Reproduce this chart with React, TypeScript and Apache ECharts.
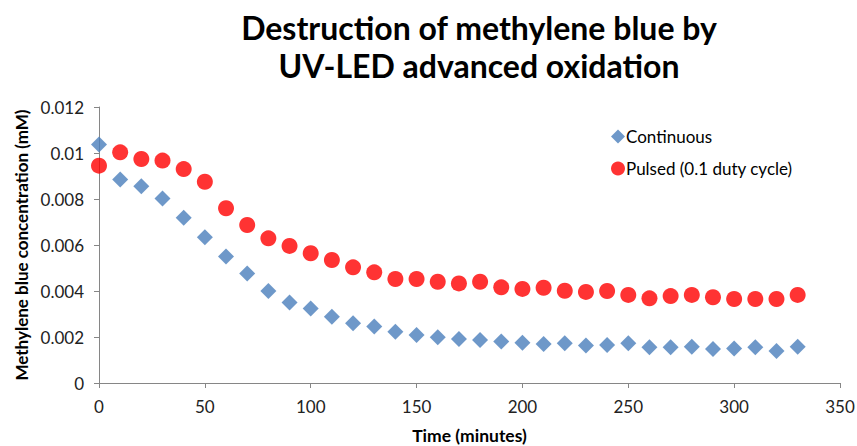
import React, { useEffect, useRef } from "react";
import * as echarts from "echarts";

const times = [0,10,20,30,40,50,60,70,80,90,100,110,120,130,140,150,160,170,180,190,200,210,220,230,240,250,260,270,280,290,300,310,320,330];
const continuous = [0.01037,0.00885,0.00855,0.00802,0.00719,0.00634,0.0055,0.00476,0.004,0.0035,0.00324,0.00288,0.0026,0.00246,0.00223,0.00209,0.00199,0.00191,0.00187,0.0018,0.00175,0.0017,0.00173,0.00163,0.00165,0.00173,0.00155,0.00155,0.00158,0.00148,0.0015,0.00155,0.00139,0.00158];
const pulsed = [0.00945,0.01003,0.00974,0.00967,0.0093,0.00875,0.0076,0.00687,0.00629,0.00596,0.00564,0.00535,0.00503,0.00481,0.00452,0.00452,0.0044,0.00433,0.0044,0.00416,0.00409,0.00414,0.00401,0.00396,0.004,0.00383,0.00368,0.00378,0.00383,0.00373,0.00365,0.00365,0.00365,0.00383];
const yTicks = ["0","0.002","0.004","0.006","0.008","0.01","0.012"];

const FONT = "Lato";

export default function App() {
  const ref = useRef<HTMLDivElement>(null);
  useEffect(() => {
    if (!ref.current) return;
    const chart = echarts.init(ref.current, null, { renderer: "svg" });
    chart.setOption({
      animation: false,
      backgroundColor: "#ffffff",
      title: {
        text: "Destruction of methylene blue by\nUV-LED advanced oxidation",
        left: 474,
        top: 3,
        textAlign: "center",
        textStyle: { fontFamily: FONT, fontSize: 32, fontWeight: "bold", color: "#000", lineHeight: 38 },
      },
      legend: {
        orient: "vertical",
        left: 606,
        top: 123,
        itemGap: 15,
        itemWidth: 14,
        itemHeight: 14,
        textStyle: { fontFamily: FONT, fontSize: 17, color: "#000", padding: [0, 0, 0, -4] },
        data: [
          { name: "Continuous", icon: "diamond" },
          { name: "Pulsed (0.1 duty cycle)", icon: "circle" },
        ],
      },
      grid: { left: 99, right: 17, top: 107, bottom: 63, containLabel: false, outerBoundsMode: "none" },
      xAxis: {
        type: "value",
        min: 0,
        max: 350,
        interval: 50,
        name: "Time (minutes)",
        nameLocation: "middle",
        nameGap: 43,
        nameTextStyle: { fontFamily: FONT, fontSize: 17.5, fontWeight: "bold", color: "#000" },
        axisLine: { lineStyle: { color: "#868686" } },
        axisTick: { show: true, length: 5, lineStyle: { color: "#868686" } },
        axisLabel: { fontFamily: FONT, fontSize: 17, color: "#222", margin: 15 },
        splitLine: { show: false },
      },
      yAxis: {
        type: "value",
        min: 0,
        max: 0.012,
        interval: 0.002,
        name: "Methylene blue concentration (mM)",
        nameLocation: "middle",
        nameGap: 68,
        nameTextStyle: { fontFamily: FONT, fontSize: 17, fontWeight: "bold", color: "#000" },
        axisLine: { show: true, lineStyle: { color: "#868686" } },
        axisTick: { show: true, length: 5, lineStyle: { color: "#868686" } },
        axisLabel: {
          fontFamily: FONT,
          fontSize: 17,
          color: "#222",
          margin: 15,
          formatter: (v: number) => yTicks[Math.round(v / 0.002)] ?? String(v),
        },
        splitLine: { show: false },
      },
      series: [
        {
          name: "Continuous",
          type: "scatter",
          symbol: "diamond",
          symbolSize: 16,
          itemStyle: { color: "#4a7ebb" },
          data: times.map((t, i) => [t, continuous[i]]),
        },
        {
          name: "Pulsed (0.1 duty cycle)",
          type: "scatter",
          symbol: "circle",
          symbolSize: 16,
          itemStyle: { color: "#ff0000" },
          data: times.map((t, i) => [t, pulsed[i]]),
        },
      ],
    });
    return () => chart.dispose();
  }, []);
  return <div ref={ref} style={{ width: 857, height: 446, position: "absolute", left: 0, top: 0 }} />;
}
